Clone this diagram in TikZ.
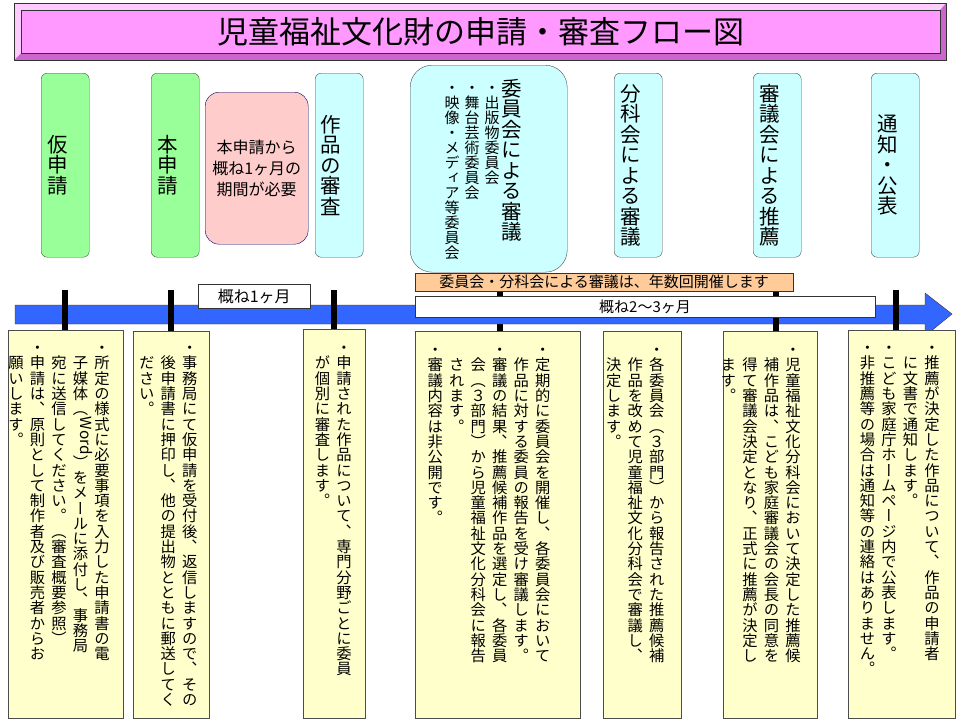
\documentclass[tikz,border=0pt]{standalone}
\usepackage{fontspec}
\setmainfont{Noto Sans CJK JP}
\newfontfamily\vjp[RawFeature={vertical;+vert}]{Noto Sans CJK JP}
\usetikzlibrary{positioning}
\definecolor{titlepink}{HTML}{FF99FF}
\definecolor{bevellight}{HTML}{FFCCFF}
\definecolor{beveldark}{HTML}{CC66CC}
\definecolor{stepgreen}{HTML}{99FF99}
\definecolor{stepcyan}{HTML}{CCFFFF}
\definecolor{steppink}{HTML}{FFCCCC}
\definecolor{notebg}{HTML}{FFFFCC}
\definecolor{barorange}{HTML}{FFCC99}
\definecolor{arrowblue}{HTML}{3366FF}
\tikzset{
  stepbox/.style={draw=black!70, rounded corners=6pt, minimum width=48pt, minimum height=184pt, inner sep=0pt},
  notebox/.style={draw=black!70, fill=notebg, inner sep=0pt},
  vtitle/.style={rotate=-90, inner sep=0pt, font=\vjp\fontsize{20.5}{22}\selectfont},
  vnote/.style={rotate=-90, inner sep=0pt, anchor=north west, align=left, font=\vjp\fontsize{15.3}{21.5}\selectfont},
  tick/.style={line width=6pt}
}
\newcommand{\notebox}[5]{% name, left, top, right, bottom
  \node (#1) [notebox, minimum width=#4pt-#2pt, minimum height=#5pt-#3pt, anchor=north west] at (#2,#3) {};
}
\begin{document}
\begin{tikzpicture}[x=1pt,y=-1pt]
\useasboundingbox (0,0) rectangle (961,723);
% title
\fill [beveldark] (14,3) rectangle (946,60);
\fill [bevellight] (14,3) -- (946,3) -- (940,10) -- (21,10) -- (21,53) -- (14,60) -- cycle;
\draw [black!80] (14,3) rectangle (946,60);
\node (title) [fill=titlepink, draw=black!80, minimum width=919pt, minimum height=43pt, inner sep=0pt, anchor=north west,
  font=\fontsize{31}{33}\selectfont] at (21,10) {児童福祉文化財の申請・審査フロー図};
% steps
\node (kari) [stepbox, fill=stepgreen, anchor=north west] at (41,73) {};
\node [vtitle] at (kari) {仮申請};
\node (hon) [stepbox, fill=stepgreen, anchor=north west] at (151,73) {};
\node [vtitle] at (hon) {本申請};
\node (kikan) [draw=blue!40!black, fill=steppink, rounded corners=14pt, minimum width=103pt, minimum height=152pt,
  anchor=north west, align=center, font=\fontsize{16}{21}\selectfont] at (205,92) {本申請から\\概ね1ヶ月の\\期間が必要};
\node (sakuhin) [stepbox, fill=stepcyan, anchor=north west] at (315,73) {};
\node [vtitle, anchor=west] at (338.5,114) {作品の審査};
\node (iinkai) [stepbox, fill=stepcyan, rounded corners=22pt, minimum width=157pt, minimum height=207pt, anchor=north west] at (410,65) {};
\node [vtitle, anchor=west] at (519,78) {委員会による審議};
\node [vnote, font=\vjp\fontsize{15}{20}\selectfont] at (505,80) {・出版物委員会\\・舞台芸術委員会\\・映像・メディア等委員会};
\node (bunka) [stepbox, fill=stepcyan, anchor=north west] at (614,73) {};
\node [vtitle] at (bunka) {分科会による審議};
\node (shingi) [stepbox, fill=stepcyan, anchor=north west] at (753,73) {};
\node [vtitle] at (shingi) {審議会による推薦};
\node (tsuchi) [stepbox, fill=stepcyan, anchor=north west] at (871,73) {};
\node [vtitle] at (tsuchi) {通知・公表};
% time line
\foreach \x in {65,171,334,500,776,896}
  \draw [tick] (\x,290) -- (\x,332);
\fill [arrowblue] (15,305) -- (925,305) -- (925,293) -- (952,314) -- (925,336) -- (925,324) -- (15,324) -- cycle;
\draw [black!80] (15,305) -- (925,305) -- (925,293) -- (952,314) -- (925,336) -- (925,324) -- (15,324) -- cycle;
\foreach \x in {65,171,334,776,896}
  \draw [tick] (\x,290) -- (\x,332);
\node (month1) [draw=black!80, fill=white, minimum width=112pt, minimum height=24pt, inner sep=0pt, anchor=north west,
  font=\fontsize{16}{18}\selectfont] at (198,284) {概ね1ヶ月};
\node (kaisai) [draw=black!80, fill=barorange, minimum width=378pt, minimum height=18pt, inner sep=0pt, anchor=north west,
  font=\fontsize{15}{17}\selectfont] at (415,273) {委員会・分科会による審議は、年数回開催します};
\node (month23) [draw=black!80, fill=white, minimum width=460pt, minimum height=21pt, inner sep=0pt, anchor=north west,
  font=\fontsize{15}{17}\selectfont] at (415,296) {};
\node at (645,306.5) [font=\fontsize{15}{17}\selectfont] {概ね2〜3ヶ月};
% notes
\notebox{note1}{8}{330}{123}{718}
\node [vnote] at (115,340) {・所定の様式に必要事項を入力した申請書の電\\　子媒体（{\rmfamily Word}）をメールに添付し、事務局\\　宛に送信してください。（審査概要参照）\\・申請は、原則として制作者及び販売者からお\\　願いします。};
\notebox{note2}{133}{331}{209}{718}
\node [vnote] at (203,340) {・事務局にて仮申請を受付後、返信しますので、その\\　後申請書に押印し、他の提出物とともに郵送してく\\　ださい。};
\notebox{note3}{303}{329}{365}{718}
\node [vnote] at (357,340) {・申請された作品について、専門分野ごとに委員\\　が個別に審査します。};
\notebox{note4}{415}{331}{580}{718}
\node [vnote] at (556,342) {・定期的に委員会を開催し、各委員会において\\　作品に対する委員の報告を受け審議します。\\・審議の結果、推薦候補作品を選定し、各委員\\　会（３部門）から児童福祉文化分科会に報告\\　されます。\\・審議内容は非公開です。};
\notebox{note5}{603}{331}{681}{718}
\node [vnote] at (670,342) {・各委員会（３部門）から報告された推薦候補\\　作品を改めて児童福祉文化分科会で審議し、\\　決定します。};
\notebox{note6}{723}{331}{817}{718}
\node [vnote] at (806,342) {・児童福祉文化分科会において決定した推薦候\\　補作品は、こども家庭審議会の会長の同意を\\　得て審議会決定となり、正式に推薦が決定し\\　ます。};
\notebox{note7}{848}{330}{955}{718}
\node [vnote] at (945,340) {・推薦が決定した作品について、作品の申請者\\　に文書で通知します。\\・こども家庭庁ホームページ内で公表します。\\・非推薦等の場合は通知等の連絡はありません。};
\end{tikzpicture}
\end{document}
